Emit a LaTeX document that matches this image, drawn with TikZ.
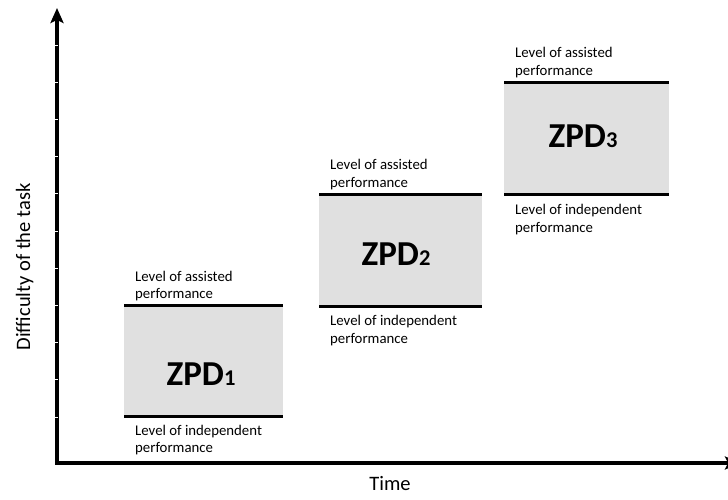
\documentclass[tikz,border=0pt]{standalone}
\usepackage{fontspec}
\setmainfont{Carlito}
\usetikzlibrary{arrows.meta}
\definecolor{zonefill}{RGB}{224,224,224}
\tikzset{
  axisline/.style={line width=3.6pt, -{Stealth[length=15pt,width=13pt,inset=3pt]}},
  tickgap/.style={draw=white, line width=0.9pt},
  zone/.style={fill=zonefill, inner sep=0pt, anchor=north west},
  levelline/.style={line width=3pt},
  lbl/.style={anchor=base west, inner sep=0pt, font=\fontsize{14.8}{17}\selectfont},
  zpd/.style={anchor=base, inner sep=0pt, font=\fontsize{35}{35}\selectfont\bfseries},
  axislabel/.style={inner sep=0pt, font=\fontsize{20.5}{20.5}\selectfont}
}
\newcommand{\zpdidx}[1]{{\fontsize{22.5}{22.5}\selectfont #1}}
\begin{document}
\begin{tikzpicture}[x=1pt, y=-1pt]
\useasboundingbox (0,0) rectangle (728,500);
\clip (0,0) rectangle (728,500);

% axes
\coordinate (origin) at (57,463);
\coordinate (ytop) at (57,8);
\coordinate (xend) at (740,463);
\draw[axisline] ([yshift=-1.8pt]origin) -- (ytop);
\draw[axisline] ([xshift=-1.8pt]origin) -- (xend);
\foreach \k in {0,...,10} {
  \draw[tickgap] (55,{45+37.2*\k}) -- (58,{45+37.2*\k});
}

% axis labels
\node[axislabel, anchor=base] (timelbl) at (390,490) {Time};
\node[axislabel, rotate=90, anchor=base] (difflbl) at (30,267) {Difficulty of the task};

% zone 1
\node[zone, minimum width=159pt, minimum height=111pt] (z1) at (124,305) {};
\draw[levelline] (z1.north west) -- (z1.north east);
\draw[levelline] (z1.south west) -- (z1.south east);
\node[zpd] (t1) at (201,385) {ZPD\zpdidx{1}};
\node[lbl] (a1a) at (135,281) {Level of assisted};
\node[lbl] (a1b) at (135,298) {performance};
\node[lbl] (i1a) at (135,435) {Level of independent};
\node[lbl] (i1b) at (135,452) {performance};

% zone 2
\node[zone, minimum width=163pt, minimum height=112pt] (z2) at (319,194) {};
\draw[levelline] (z2.north west) -- (z2.north east);
\draw[levelline] (z2.south west) -- (z2.south east);
\node[zpd] (t2) at (396,265) {ZPD\zpdidx{2}};
\node[lbl] (a2a) at (330,169) {Level of assisted};
\node[lbl] (a2b) at (330,187) {performance};
\node[lbl] (i2a) at (330,325) {Level of independent};
\node[lbl] (i2b) at (330,343) {performance};

% zone 3
\node[zone, minimum width=165pt, minimum height=111pt] (z3) at (504,83) {};
\draw[levelline] (z3.north west) -- (z3.north east);
\draw[levelline] (z3.south west) -- (z3.south east);
\node[zpd] (t3) at (583,148) {ZPD\zpdidx{3}};
\node[lbl] (a3a) at (515,58) {Level of assisted};
\node[lbl] (a3b) at (515,76) {performance};
\node[lbl] (i3a) at (515,214) {Level of independent};
\node[lbl] (i3b) at (515,232) {performance};
\end{tikzpicture}
\end{document}
